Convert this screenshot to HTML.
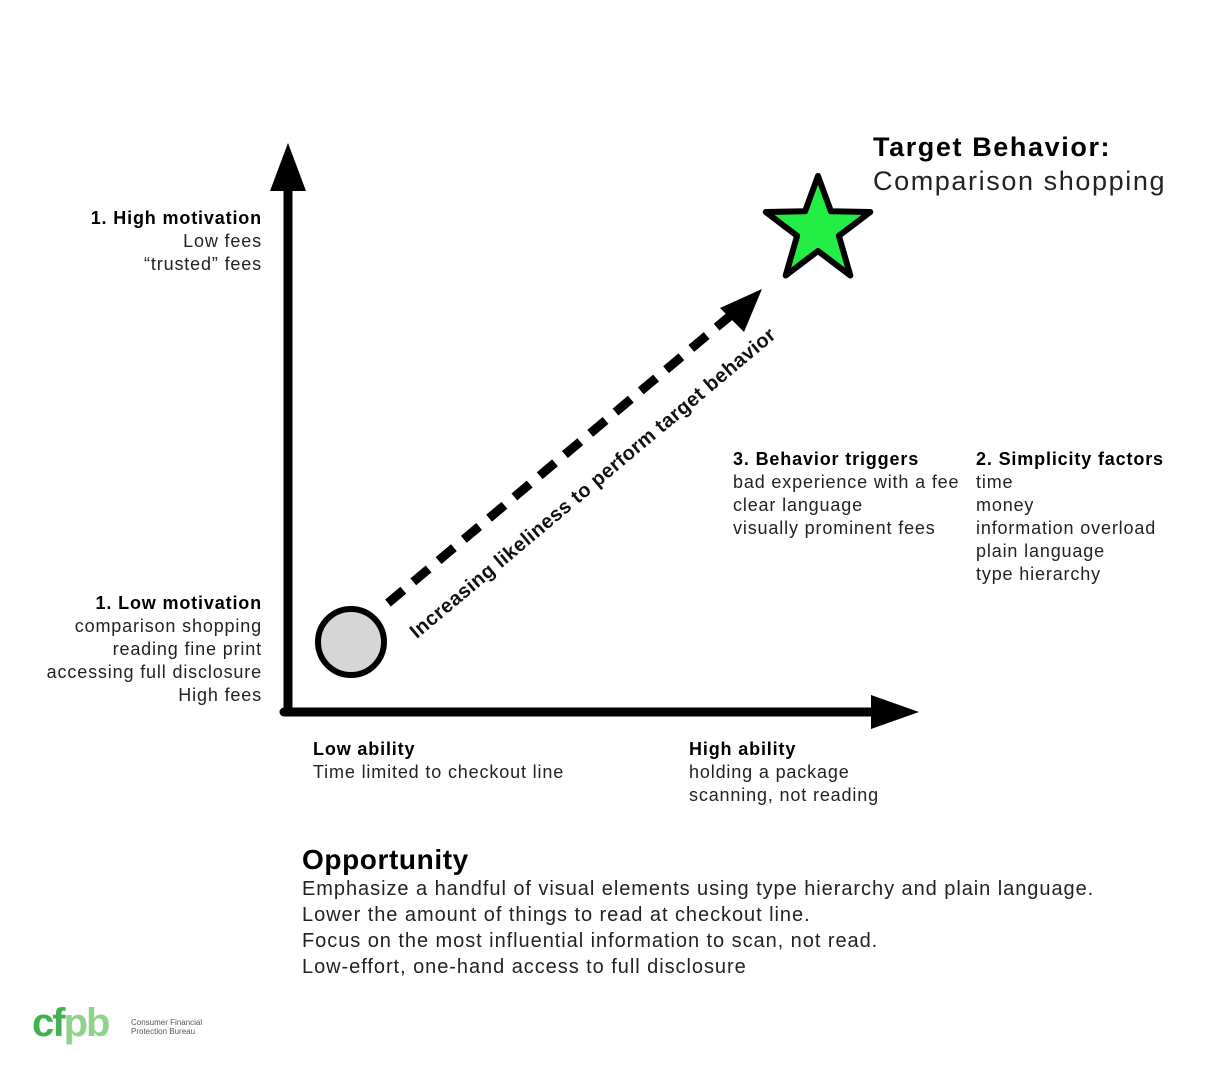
<!DOCTYPE html>
<html><head><meta charset="utf-8"><style>
body{margin:0;background:#fff;width:1224px;height:1073px;position:relative;overflow:hidden;font-family:"Liberation Sans",sans-serif;color:#222}
.t{position:absolute;font-size:18px;line-height:23px;white-space:nowrap;letter-spacing:0.85px}
.r{text-align:right}
b{color:#000}
</style></head><body>
<svg width="1224" height="1073" style="position:absolute;left:0;top:0">
<line x1="288" y1="185" x2="288" y2="712" stroke="#000" stroke-width="9" stroke-linecap="round"/>
<line x1="284" y1="712" x2="880" y2="712" stroke="#000" stroke-width="9" stroke-linecap="round"/>
<polygon points="288,143 270,191 306,191" fill="#000"/>
<polygon points="919,712 871,695 871,729" fill="#000"/>
<line x1="388" y1="603" x2="730" y2="316" stroke="#000" stroke-width="9" stroke-dasharray="20,13"/>
<polygon points="762,289 720,308 744,332" fill="#000"/>
<circle cx="351" cy="642" r="33" fill="#d6d6d6" stroke="#000" stroke-width="6"/>
<polygon points="818,176 830.9,211.2 870.3,212 838.9,235.8 850.3,275.5 818,251 785.7,275.5 797.1,235.8 765.7,212 805.1,211.2" fill="#22ee44" stroke="#000" stroke-width="6" stroke-linejoin="round"/>
<text x="0" y="0" transform="translate(597,488) rotate(-40)" text-anchor="middle" font-family="Liberation Sans" font-weight="bold" font-size="20" letter-spacing="0.4" fill="#111">Increasing likeliness to perform target behavior</text>
</svg>
<div class="t" style="left:873px;top:130px;font-size:27px;line-height:34px;letter-spacing:1.6px"><b>Target Behavior:</b><br>Comparison shopping</div>
<div class="t r" style="right:962px;top:207px"><b>1. High motivation</b><br>Low fees<br>“trusted” fees</div>
<div class="t r" style="right:962px;top:592px"><b>1. Low motivation</b><br>comparison shopping<br>reading fine print<br>accessing full disclosure<br>High fees</div>
<div class="t" style="left:733px;top:448px"><b>3. Behavior triggers</b><br>bad experience with a fee<br>clear language<br>visually prominent fees</div>
<div class="t" style="left:976px;top:448px"><b>2. Simplicity factors</b><br>time<br>money<br>information overload<br>plain language<br>type hierarchy</div>
<div class="t" style="left:313px;top:738px"><b>Low ability</b><br>Time limited to checkout line</div>
<div class="t" style="left:689px;top:738px"><b>High ability</b><br>holding a package<br>scanning, not reading</div>
<div class="t" style="left:302px;top:843px;font-size:28px;line-height:34px;letter-spacing:0.6px"><b>Opportunity</b></div>
<div class="t" style="left:302px;top:876px;font-size:20px;line-height:26px;letter-spacing:0.95px">Emphasize a handful of visual elements using type hierarchy and plain language.<br>Lower the amount of things to read at checkout line.<br>Focus on the most influential information to scan, not read.<br>Low-effort, one-hand access to full disclosure</div>
<div class="t" style="left:32px;top:1000px;font-size:40px;line-height:46px;font-weight:bold;letter-spacing:-2px"><span style="color:#3fb34f">c</span><span style="color:#3fb34f">f</span><span style="color:#8fd38a">p</span><span style="color:#8fd38a">b</span></div>
<div class="t" style="left:131px;top:1018px;font-size:8px;line-height:9px;color:#555;letter-spacing:0">Consumer Financial<br>Protection Bureau</div>
</body></html>
